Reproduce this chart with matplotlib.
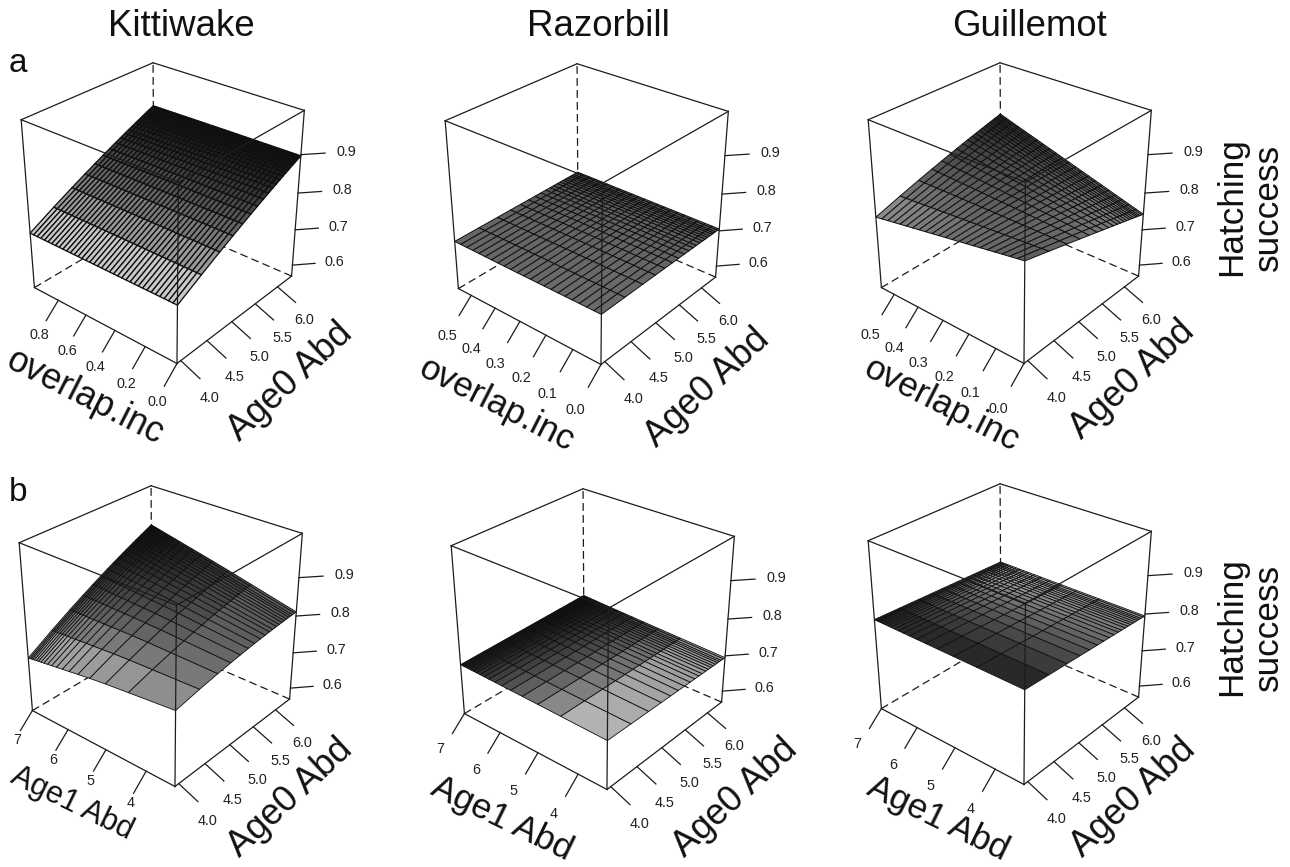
import numpy as np
import matplotlib
matplotlib.use("Agg")
import matplotlib.pyplot as plt

plt.rcParams['font.family'] = ['Liberation Sans', 'DejaVu Sans']

species = ["Kittiwake", "Razorbill", "Guillemot"]
z_ticks = [0.6, 0.7, 0.8, 0.9]
age0_ticks = [4.0, 4.5, 5.0, 5.5, 6.0]
age0_lim = (3.93, 6.33)
z_lim = (0.568, 1.01)
age0_grid = [3.93, 4.36, 4.70, 4.95, 5.14, 5.30, 5.43, 5.55, 5.65, 5.74, 5.81,
             5.89, 5.95, 6.01, 6.06, 6.11, 6.16, 6.20, 6.24, 6.29, 6.33]
age1_grid = [3.32, 4.40, 4.96, 5.35, 5.65, 5.88, 6.06, 6.22, 6.35, 6.46, 6.56,
             6.64, 6.71, 6.77, 6.83, 6.88, 6.92, 6.96, 7.00]
overlap_grid_k = np.linspace(0, 0.98, 38)
overlap_grid_r = np.linspace(0, 0.555, 23)
overlap_ticks_k = [0.0, 0.2, 0.4, 0.6, 0.8]
overlap_ticks_r = [0.0, 0.1, 0.2, 0.3, 0.4, 0.5]
age1_ticks = [4, 5, 6, 7]

# fitted surface heights, rows run along the x variable, columns along age0
z_kitti_a = [[.721, .815, .897], [.721, .815, .896], [.721, .814, .894]]
z_razor_a = [[.700, .703, .705], [.700, .704, .706], [.701, .704, .707]]
z_guill_a = [[.830, .787, .743], [.797, .805, .807], [.764, .822, .871]]
z_kitti_b = [[.765, .795, .811], [.745, .810, .860], [.716, .820, .905]]
z_razor_b = [[.697, .696, .695], [.702, .702, .703], [.706, .709, .712]]
z_guill_b = [[.811, .803, .795], [.812, .803, .795], [.813, .804, .795]]

# facet greys read at the same places
g_kitti_a = [[.90, .36, .05], [.90, .36, .05], [.90, .36, .05]]
g_razor_a = [[.42, .40, .36], [.41, .39, .35], [.40, .37, .27]]
g_guill_a = [[.36, .44, .58], [.46, .35, .34], [.60, .32, .12]]
g_kitti_b = [[.58, .42, .45], [.68, .32, .20], [.75, .26, .03]]
g_razor_b = [[.82, .76, .74], [.46, .35, .30], [.08, .05, .02]]
g_guill_b = [[.12, .34, .55], [.13, .35, .68], [.15, .36, .85]]

W, H = 1290, 867
AX_SIZE = 321.5   # px, gives the same scale as the original persp box

def on_mesh(table, xgrid, x_lim):
    table = np.array(table)
    xk = [x_lim[0], sum(x_lim)/2, x_lim[1]]
    ak = [age0_lim[0], sum(age0_lim)/2, age0_lim[1]]
    cols = np.array([np.interp(xgrid, xk, table[:, j]) for j in range(3)]).T
    return np.array([np.polyval(np.polyfit(ak, row, 2), age0_grid) for row in cols])

def panel(dx, dy, xgrid, xticks, xticklabels, x_lim, ztab, gtab, xoff, mesh_lw):
    ax = fig.add_axes([(-0.93+dx)/W, (499.5-dy)/H, AX_SIZE/W, AX_SIZE/H], projection="3d")
    ax.computed_zorder = False
    ax.set_xlim(*age0_lim, view_margin=0)
    ax.set_ylim(*x_lim, view_margin=0)
    ax.set_zlim(*z_lim, view_margin=0)
    ax.view_init(elev=29.55, azim=-139.79, roll=0)
    ax.set_proj_type("persp", focal_length=0.5645)
    ax.set_box_aspect((1, 1.009, 1.005), zoom=1)
    ax.set_axis_off()
    ax.patch.set_alpha(0)

    a0, a1 = age0_lim
    y0, y1 = x_lim
    z0, z1 = z_lim
    ra, ry, rz = a1-a0, y1-y0, z1-z0
    line = dict(color="#1c1c1c", lw=0.9, clip_on=False)
    M = ax.get_proj()

    def ticktext(x, y, z, s):
        # project by hand so the label stays a plain 2d text
        v = M @ np.array([x, y, z, 1.0])
        ax.text2D(v[0]/v[3], v[1]/v[3], s, transform=ax.transData, ha="center", va="center",
                  fontsize=10.4, color="#222222")

    # back edges, hidden by the surface
    for seg in [((a1, a1), (y1, y1), (z0, z1)), ((a0, a1), (y1, y1), (z0, z0)), ((a1, a1), (y0, y1), (z0, z0))]:
        ax.plot(*seg, ls=(0, (6.2, 3.4)), zorder=1, **line)
    for seg in [((a1, a1), (y1, y0), (z1, z1)), ((a1, a0), (y1, y1), (z1, z1))]:
        ax.plot(*seg, zorder=1, **line)

    X, Y = np.meshgrid(age0_grid, xgrid)
    Z = on_mesh(ztab, xgrid, x_lim)
    G = np.clip(on_mesh(gtab, xgrid, x_lim), 0, 1)
    Gf = (G[:-1, :-1]+G[1:, 1:]+G[1:, :-1]+G[:-1, 1:])/4
    fc = np.dstack([Gf, Gf, Gf, np.ones_like(Gf)])
    ax.plot_surface(X, Y, Z, facecolors=fc, rstride=1, cstride=1, shade=False,
                    edgecolor="#101010", linewidth=mesh_lw, zorder=2, clip_on=False)

    # front edges are drawn over the surface
    for seg in [((a0, a0), (y0, y0), (z0, z1)), ((a1, a1), (y0, y0), (z0, z1)), ((a0, a0), (y1, y1), (z0, z1)),
                ((a0, a1), (y0, y0), (z0, z0)), ((a0, a0), (y0, y1), (z0, z0)),
                ((a0, a1), (y0, y0), (z1, z1)), ((a0, a0), (y0, y1), (z1, z1))]:
        ax.plot(*seg, zorder=3, **line)

    for v, lab in zip(xticks, xticklabels):
        ax.plot((a0, a0-.096*ra), (v, v), (z0, z0-.08*rz), zorder=3, **line)
        ticktext(a0-xoff[0]*ra, v, z0-xoff[1]*rz, lab)
    for v in age0_ticks:
        ax.plot((v, v), (y0, y0-.12*ry), (z0, z0-.048*rz), zorder=3, **line)
        ticktext(v, y0-.18*ry, z0-.135*rz, f"{v:.1f}")
    for v in z_ticks:
        ax.plot((a1, a1+.096*ra), (y0, y0-.085*ry), (v, v), zorder=3, **line)
        ticktext(a1+.096*ra*1.87, y0-.085*ry*1.87, v, f"{v:.1f}")
    return ax

def label(x, y, s, size, rot=0):
    fig.text(x/W, 1-y/H, s, fontsize=size, rotation=rot, rotation_mode="anchor",
             ha="center", va="center", color="#111111")

fig = plt.figure(figsize=(W/100, H/100), dpi=100, facecolor="white")

k_labs = [f"{v:.1f}" for v in overlap_ticks_k]
r_labs = [f"{v:.1f}" for v in overlap_ticks_r]
a_labs = [str(v) for v in age1_ticks]
panel(0, 0, overlap_grid_k, overlap_ticks_k, k_labs, (0, 0.98), z_kitti_a, g_kitti_a, (.148, .147), 0.95)
panel(424, 1, overlap_grid_r, overlap_ticks_r, r_labs, (0, 0.555), z_razor_a, g_razor_a, (.19, .16), 0.7)
panel(847, 0, overlap_grid_r, overlap_ticks_r, r_labs, (0, 0.555), z_guill_a, g_guill_a, (.19, .16), 0.7)
panel(-2, 423, age1_grid, age1_ticks, a_labs, (3.32, 7.0), z_kitti_b, g_kitti_b, (.122, .127), 0.6)
panel(430, 426, age1_grid, age1_ticks, a_labs, (3.32, 7.0), z_razor_b, g_razor_b, (.187, .134), 0.6)
panel(847, 421, age1_grid, age1_ticks, a_labs, (3.32, 7.0), z_guill_b, g_guill_b, (.187, .134), 0.6)

for name, x in zip(species, [181, 598, 1030]):
    label(x, 27, name, 26.4)
label(18, 64, "a", 24)
label(18, 492, "b", 24)

label(85, 397, "overlap.inc", 25.6, -27)
for x, y in [(497, 405), (942, 405)]:
    label(x, y, "overlap.inc", 25.2, -27)
for x, y in [(290, 382), (707, 388), (1132, 380), (290, 798), (735, 798), (1133, 798)]:
    label(x, y, "Age0 Abd", 26, 43)
label(72, 803, "Age1 Abd", 22, -26)
label(502, 819, "Age1 Abd", 25.4, -26)
label(938, 819, "Age1 Abd", 25.4, -26)

for y in [207, 627]:
    label(1232, y, "Hatching", 25.3, 90)
    label(1268, y, "success", 25.3, 90)

fig.savefig("out.png", dpi=100, facecolor="white")
